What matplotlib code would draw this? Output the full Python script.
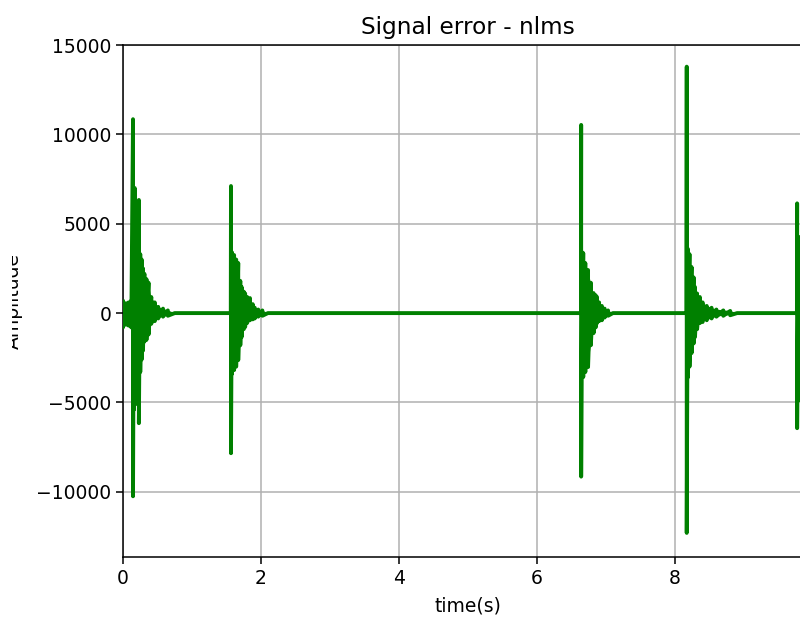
import numpy as np
import matplotlib
matplotlib.use("Agg")
import matplotlib.pyplot as plt
from matplotlib.patches import Rectangle

# Envelope samples of the NLMS error signal: time (s), upper and lower extremes
burst1_t  = [0.00, 0.04, 0.08, 0.12, 0.145, 0.16, 0.17, 0.19, 0.21, 0.23, 0.25, 0.27, 0.29, 0.31, 0.34, 0.37, 0.41, 0.46, 0.51, 0.58, 0.65, 0.75]
burst1_hi = [650, 550, 600, 700, 10850, 4800, 7000, 4900, 4700, 6330, 3300, 3000, 2500, 2200, 1900, 1700, 900, 600, 350, 250, 150, 0]
burst1_lo = [-800, -650, -700, -800, -10250, -5400, -5000, -4900, -5100, -6160, -3300, -2600, -2100, -1600, -1500, -1200, -600, -450, -300, -200, -150, 0]

burst2_t  = [1.562, 1.565, 1.58, 1.61, 1.64, 1.67, 1.70, 1.72, 1.75, 1.77, 1.80, 1.84, 1.88, 1.91, 1.96, 2.02, 2.10]
burst2_hi = [0, 7110, 3400, 3250, 3000, 2800, 1800, 1460, 1200, 1100, 900, 840, 500, 300, 200, 150, 0]
burst2_lo = [0, -7840, -3400, -3190, -3000, -2630, -1800, -1340, -900, -780, -550, -400, -350, -300, -200, -150, 0]

burst3_t  = [6.637, 6.64, 6.655, 6.67, 6.70, 6.74, 6.78, 6.82, 6.85, 6.87, 6.90, 6.94, 6.98, 7.03, 7.10]
burst3_hi = [0, 10530, 3400, 3360, 2800, 2410, 1700, 1120, 1000, 900, 600, 400, 250, 150, 0]
burst3_lo = [0, -9150, -3600, -3580, -3300, -3020, -1800, -1120, -800, -560, -450, -400, -250, -150, 0]

burst4_t  = [8.167, 8.17, 8.185, 8.21, 8.24, 8.27, 8.29, 8.32, 8.36, 8.40, 8.46, 8.53, 8.60, 8.70, 8.80, 8.90]
burst4_hi = [0, 13790, 3600, 3300, 2580, 2000, 1460, 1100, 900, 600, 400, 300, 200, 150, 120, 0]
burst4_lo = [0, -12300, -3600, -3000, -2240, -1700, -1340, -900, -560, -500, -400, -300, -200, -150, -120, 0]

burst5_t  = [9.767, 9.77, 9.79, 9.82, 9.86, 9.90, 9.95, 10.0]
burst5_hi = [0, 6140, 4270, 4000, 3000, 2000, 1200, 800]
burst5_lo = [0, -6440, -4870, -4300, -3000, -2000, -1200, -800]

x_ticks = [0, 2, 4, 6, 8]
y_ticks = [-10000, -5000, 0, 5000, 10000, 15000]

bursts = [
    (burst1_t, burst1_hi, burst1_lo),
    (burst2_t, burst2_hi, burst2_lo),
    (burst3_t, burst3_hi, burst3_lo),
    (burst4_t, burst4_hi, burst4_lo),
    (burst5_t, burst5_hi, burst5_lo),
]

# Oscillating trace: swing from the upper to the lower extreme at each sample
trace_t, trace_v = [], []
for t, hi, lo in bursts:
    for ti, h, l in zip(t, hi, lo):
        trace_t += [ti, ti]
        trace_v += [h, l]

fig = plt.figure(figsize=(8.0, 6.17), dpi=100)
ax = fig.add_axes([0.15375, 0.0972, 0.8625, 0.8298])

green = "#008000"
for t, hi, lo in bursts:
    poly_t = list(t) + list(t)[::-1]
    poly_v = list(hi) + list(lo)[::-1]
    ax.fill(poly_t, poly_v, color=green, linewidth=0, zorder=2)
ax.plot(trace_t, trace_v, color=green, linewidth=2.8, zorder=3)

ax.set_xlim(0, 10)
ax.set_ylim(-13650, 15000)
ax.set_xticks(x_ticks)
ax.set_yticks(y_ticks)
ax.grid(True, color="#b0b0b0", linewidth=1.1)
ax.set_axisbelow(True)
ax.tick_params(labelsize=13.5, length=5, width=1.1)
for s in ax.spines.values():
    s.set_linewidth(1.1)

ax.set_title("Signal error - nlms", fontsize=16.7, pad=8)
ax.set_xlabel("time(s)", fontsize=13.5, labelpad=6)
ax.set_ylabel("Amplitude", fontsize=13.5)
ax.yaxis.set_label_coords(-0.145, 0.5)

# white margin strip at the left edge of the canvas
fig.patches.append(Rectangle((0, 0), 12 / 800, 1, transform=fig.transFigure,
                             facecolor="white", edgecolor="none", zorder=10))

fig.savefig("out.png", dpi=100)
